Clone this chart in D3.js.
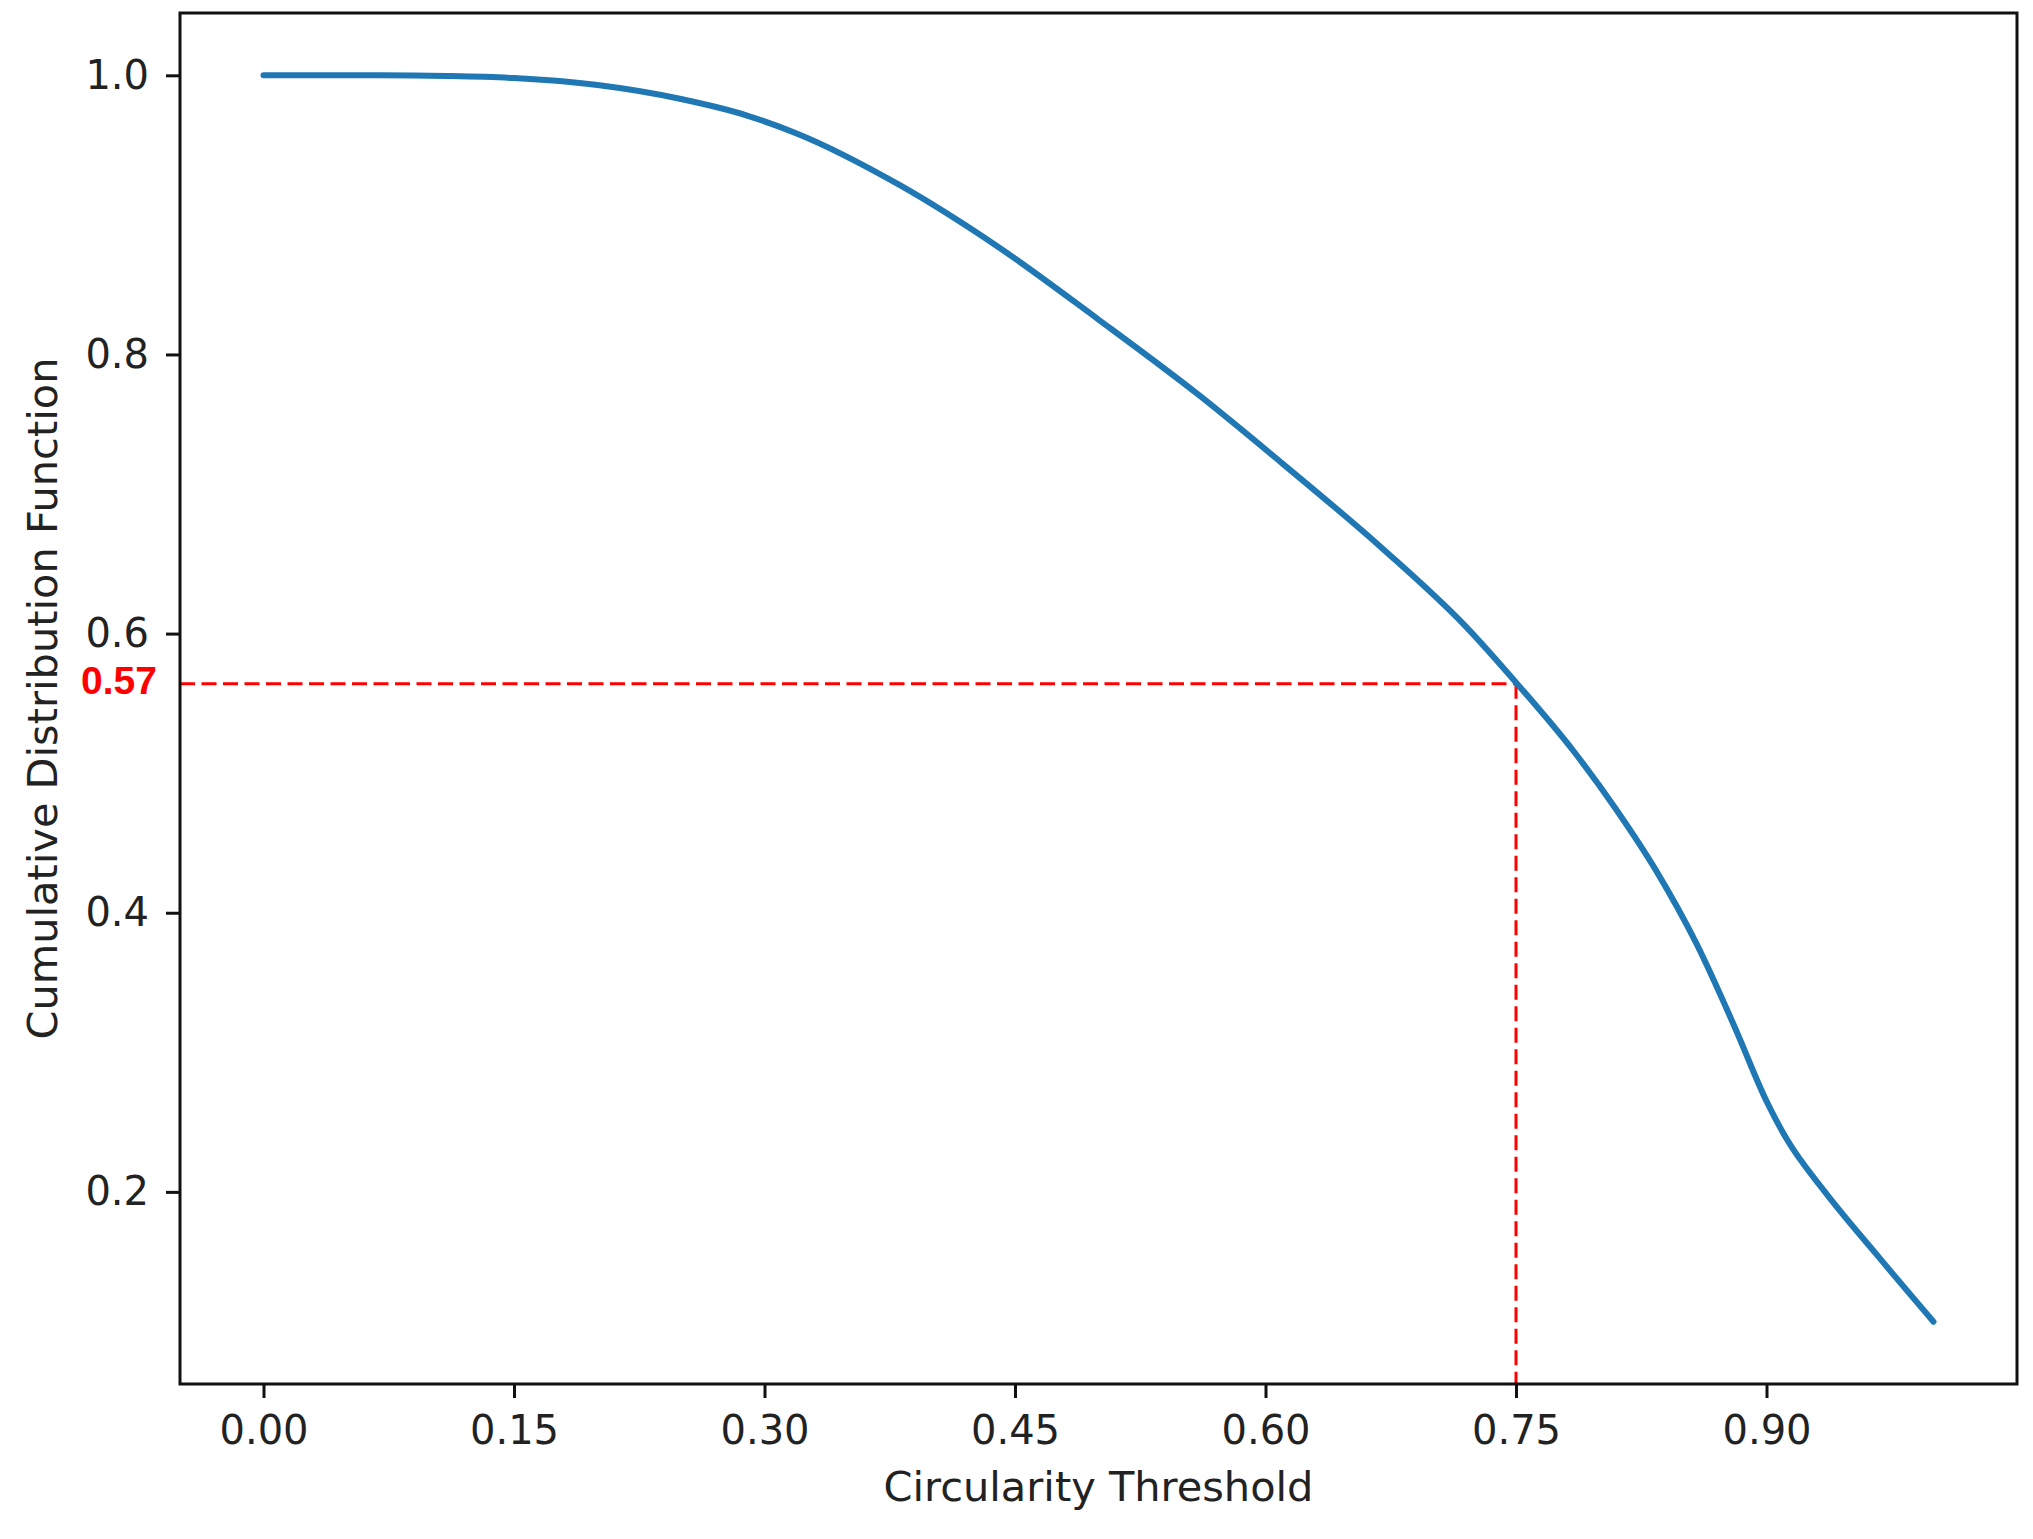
<!DOCTYPE html>
<html><head><meta charset="utf-8">
<script src="https://cdn.jsdelivr.net/npm/d3@7"></script>
<style>html,body{margin:0;padding:0;background:#fff;} svg{display:block;}</style>
</head><body>
<svg id="chart" width="2033" height="1539"></svg>
<script>
// ---- data ----
const thresholds = [0.00, 0.07, 0.11, 0.15, 0.20, 0.25, 0.29, 0.32, 0.38, 0.44, 0.50, 0.56, 0.61, 0.67, 0.72, 0.75, 0.785, 0.81, 0.834, 0.858, 0.881, 0.90, 0.912, 0.935, 0.966, 1.00];
const cdfValues  = [1.000, 1.000, 0.9995, 0.998, 0.993, 0.983, 0.971, 0.958, 0.922, 0.877, 0.825, 0.771, 0.722, 0.661, 0.605, 0.565, 0.515, 0.474, 0.430, 0.378, 0.318, 0.265, 0.238, 0.200, 0.155, 0.107];
const xTickValues = [0.00, 0.15, 0.30, 0.45, 0.60, 0.75, 0.90];
const yTickValues = [0.2, 0.4, 0.6, 0.8, 1.0];
const markerX = 0.75;
const markerY = 0.564;
const markerLabel = "0.57";
const xLabel = "Circularity Threshold";
const yLabel = "Cumulative Distribution Function";

// ---- layout ----
const W = 2033, H = 1539;
const plot = {left: 180, right: 2017, top: 13, bottom: 1384};
const FONT = "'DejaVu Sans', sans-serif";
const TEXT = "#222";

const svg = d3.select("#chart");
svg.append("rect").attr("width", W).attr("height", H).attr("fill", "#fff");

const xExt = d3.extent(thresholds), yExt = d3.extent(cdfValues);
const xPad = (xExt[1] - xExt[0]) * 0.05, yPad = (yExt[1] - yExt[0]) * 0.05;
const x = d3.scaleLinear().domain([xExt[0] - xPad, xExt[1] + xPad]).range([plot.left, plot.right]);
const y = d3.scaleLinear().domain([yExt[0] - yPad, yExt[1] + yPad]).range([plot.bottom, plot.top]);

const data = thresholds.map((t, i) => ({x: t, y: cdfValues[i]}));

// red marker lines
svg.append("line")
  .attr("x1", plot.left).attr("x2", x(markerX))
  .attr("y1", y(markerY)).attr("y2", y(markerY))
  .attr("stroke", "#ff0000").attr("stroke-width", 3)
  .attr("stroke-dasharray", "15,6.5");
svg.append("line")
  .attr("x1", x(markerX)).attr("x2", x(markerX))
  .attr("y1", y(markerY)).attr("y2", plot.bottom)
  .attr("stroke", "#ff0000").attr("stroke-width", 3)
  .attr("stroke-dasharray", "15,6.5");

// curve
svg.append("path")
  .datum(data)
  .attr("fill", "none")
  .attr("stroke", "#1f77b4")
  .attr("stroke-width", 6)
  .attr("stroke-linecap", "round")
  .attr("stroke-linejoin", "round")
  .attr("d", d3.line().x(d => x(d.x)).y(d => y(d.y)).curve(d3.curveMonotoneX));

// axes
const xAxis = svg.append("g")
  .attr("transform", `translate(0,${plot.bottom})`)
  .call(d3.axisBottom(x).tickValues(xTickValues).tickFormat(d3.format(".2f")).tickSize(14).tickPadding(18).tickSizeOuter(0));
const yAxis = svg.append("g")
  .attr("transform", `translate(${plot.left},0)`)
  .call(d3.axisLeft(y).tickValues(yTickValues).tickFormat(d3.format(".1f")).tickSize(14).tickPadding(17).tickSizeOuter(0));
[xAxis, yAxis].forEach(g => {
  g.select(".domain").remove();
  g.selectAll(".tick line").attr("stroke", "#111").attr("stroke-width", 3);
  g.selectAll(".tick text").attr("fill", TEXT).style("font-family", FONT).style("font-size", "40px");
});

// spines
svg.append("rect")
  .attr("x", plot.left).attr("y", plot.top)
  .attr("width", plot.right - plot.left).attr("height", plot.bottom - plot.top)
  .attr("fill", "none").attr("stroke", "#111").attr("stroke-width", 3);

// marker label
svg.append("text")
  .attr("x", 157).attr("y", y(markerY) + 10)
  .attr("text-anchor", "end")
  .attr("fill", "#ff0000")
  .style("font-family", "'Liberation Sans', Arial, sans-serif")
  .style("font-weight", "bold")
  .style("font-size", "39px")
  .text(markerLabel);

// axis labels
svg.append("text")
  .attr("x", (plot.left + plot.right) / 2).attr("y", 1501)
  .attr("text-anchor", "middle")
  .attr("fill", TEXT)
  .style("font-family", FONT).style("font-size", "41.5px")
  .text(xLabel);
svg.append("text")
  .attr("transform", `translate(57,${(plot.top + plot.bottom) / 2}) rotate(-90)`)
  .attr("text-anchor", "middle")
  .attr("fill", TEXT)
  .style("font-family", FONT).style("font-size", "41.5px")
  .text(yLabel);
</script>
</body></html>
